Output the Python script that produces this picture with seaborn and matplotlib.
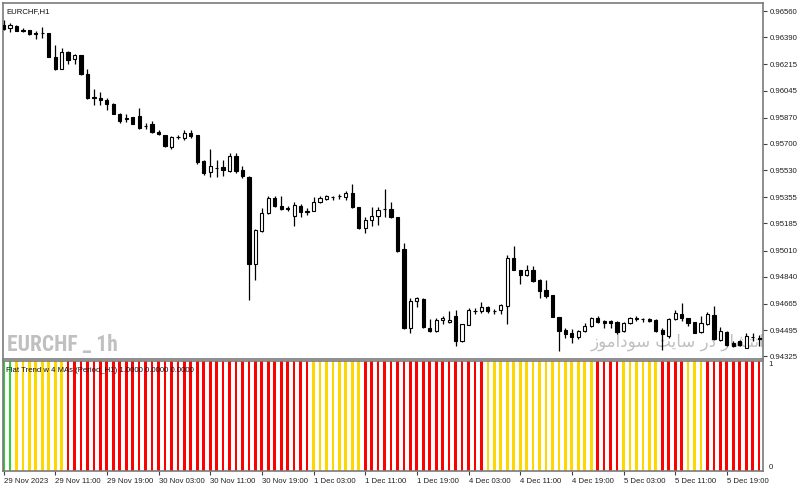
import matplotlib
matplotlib.use("Agg")
import matplotlib.pyplot as plt
from matplotlib import font_manager
import seaborn as sns
import numpy as np
import pandas as pd

# ---------------- data (EURCHF H1) ----------------
opens = [0.96469, 0.96447, 0.96464, 0.96438, 0.96436, 0.96417, 0.96415, 0.96415, 0.96263, 0.96188,
         0.96295, 0.96250, 0.96274, 0.96155, 0.96001, 0.95999, 0.95982, 0.95961, 0.95896, 0.95865,
         0.95874, 0.95878, 0.95816, 0.95826, 0.95776, 0.95757, 0.95683, 0.95744, 0.95737, 0.95772,
         0.95757, 0.95588, 0.95517, 0.95547, 0.95549, 0.95523, 0.95619, 0.95528, 0.95489, 0.94922,
         0.95134, 0.95251, 0.95348, 0.95300, 0.95284, 0.95231, 0.95300, 0.95265, 0.95268, 0.95322,
         0.95344, 0.95359, 0.95362, 0.95359, 0.95383, 0.95290, 0.95156, 0.95210, 0.95231, 0.95278,
         0.95279, 0.95229, 0.95020, 0.94511, 0.94684, 0.94699, 0.94511, 0.94487, 0.94561, 0.94548,
         0.94585, 0.94424, 0.94528, 0.94619, 0.94619, 0.94647, 0.94619, 0.94624, 0.94652, 0.94961,
         0.94885, 0.94853, 0.94883, 0.94820, 0.94753, 0.94721, 0.94580, 0.94494, 0.94478, 0.94452,
         0.94489, 0.94522, 0.94576, 0.94554, 0.94554, 0.94548, 0.94489, 0.94543, 0.94570, 0.94567,
         0.94569, 0.94561, 0.94496, 0.94457, 0.94565, 0.94598, 0.94572, 0.94548, 0.94483, 0.94533,
         0.94593, 0.94429, 0.94485, 0.94413, 0.94424, 0.94381, 0.94450, 0.94446]
highs = [0.96501, 0.96484, 0.96469, 0.96449, 0.96440, 0.96432, 0.96454, 0.96417, 0.96339, 0.96324,
         0.96300, 0.96280, 0.96276, 0.96188, 0.96058, 0.96036, 0.95997, 0.95962, 0.95898, 0.95896,
         0.95875, 0.95932, 0.95835, 0.95848, 0.95787, 0.95759, 0.95750, 0.95755, 0.95787, 0.95792,
         0.95759, 0.95593, 0.95664, 0.95593, 0.95593, 0.95643, 0.95640, 0.95560, 0.95492, 0.95151,
         0.95286, 0.95365, 0.95365, 0.95361, 0.95300, 0.95326, 0.95312, 0.95286, 0.95354, 0.95361,
         0.95370, 0.95365, 0.95377, 0.95398, 0.95441, 0.95294, 0.95225, 0.95290, 0.95290, 0.95409,
         0.95322, 0.95229, 0.95056, 0.94705, 0.94710, 0.94702, 0.94569, 0.94576, 0.94585, 0.94619,
         0.94624, 0.94537, 0.94641, 0.94641, 0.94680, 0.94652, 0.94634, 0.94663, 0.94981, 0.95039,
         0.94887, 0.94916, 0.94911, 0.94825, 0.94818, 0.94723, 0.94580, 0.94507, 0.94500, 0.94494,
         0.94543, 0.94580, 0.94587, 0.94559, 0.94559, 0.94554, 0.94550, 0.94580, 0.94589, 0.94576,
         0.94576, 0.94565, 0.94511, 0.94576, 0.94624, 0.94673, 0.94576, 0.94550, 0.94587, 0.94615,
         0.94652, 0.94515, 0.94489, 0.94424, 0.94431, 0.94478, 0.94478, 0.94463]
lows = [0.96436, 0.96425, 0.96430, 0.96423, 0.96407, 0.96376, 0.96384, 0.96261, 0.96177, 0.96183,
        0.96216, 0.96220, 0.96147, 0.95993, 0.95949, 0.95949, 0.95917, 0.95891, 0.95835, 0.95841,
        0.95829, 0.95798, 0.95796, 0.95770, 0.95755, 0.95683, 0.95668, 0.95735, 0.95727, 0.95740,
        0.95573, 0.95502, 0.95489, 0.95484, 0.95495, 0.95517, 0.95510, 0.95480, 0.94691, 0.94818,
        0.95127, 0.95247, 0.95294, 0.95275, 0.95268, 0.95171, 0.95225, 0.95242, 0.95264, 0.95318,
        0.95338, 0.95340, 0.95341, 0.95340, 0.95286, 0.95151, 0.95123, 0.95171, 0.95177, 0.95229,
        0.95223, 0.95002, 0.94504, 0.94474, 0.94647, 0.94511, 0.94485, 0.94483, 0.94533, 0.94543,
        0.94392, 0.94418, 0.94526, 0.94598, 0.94608, 0.94604, 0.94602, 0.94598, 0.94533, 0.94883,
        0.94796, 0.94846, 0.94809, 0.94702, 0.94705, 0.94580, 0.94360, 0.94446, 0.94413, 0.94435,
        0.94483, 0.94515, 0.94543, 0.94507, 0.94507, 0.94472, 0.94485, 0.94533, 0.94554, 0.94548,
        0.94548, 0.94485, 0.94364, 0.94446, 0.94561, 0.94554, 0.94522, 0.94476, 0.94478, 0.94528,
        0.94429, 0.94424, 0.94392, 0.94387, 0.94392, 0.94377, 0.94424, 0.94392]
closes = [0.96443, 0.96469, 0.96432, 0.96434, 0.96410, 0.96412, 0.96419, 0.96263, 0.96183, 0.96295,
          0.96246, 0.96274, 0.96151, 0.95999, 0.95998, 0.95984, 0.95956, 0.95896, 0.95848, 0.95862,
          0.95831, 0.95805, 0.95813, 0.95774, 0.95761, 0.95685, 0.95744, 0.95745, 0.95772, 0.95750,
          0.95586, 0.95513, 0.95554, 0.95544, 0.95528, 0.95619, 0.95523, 0.95495, 0.94922, 0.95145,
          0.95253, 0.95348, 0.95300, 0.95279, 0.95281, 0.95305, 0.95257, 0.95262, 0.95322, 0.95348,
          0.95364, 0.95357, 0.95364, 0.95383, 0.95290, 0.95156, 0.95210, 0.95234, 0.95275, 0.95279,
          0.95225, 0.95009, 0.94507, 0.94682, 0.94702, 0.94515, 0.94489, 0.94559, 0.94576, 0.94561,
          0.94424, 0.94533, 0.94624, 0.94621, 0.94645, 0.94619, 0.94617, 0.94656, 0.94961, 0.94885,
          0.94853, 0.94887, 0.94814, 0.94749, 0.94716, 0.94580, 0.94489, 0.94472, 0.94450, 0.94489,
          0.94522, 0.94576, 0.94550, 0.94543, 0.94541, 0.94485, 0.94543, 0.94572, 0.94572, 0.94564,
          0.94554, 0.94489, 0.94468, 0.94569, 0.94608, 0.94572, 0.94543, 0.94478, 0.94543, 0.94602,
          0.94435, 0.94489, 0.94398, 0.94392, 0.94398, 0.94457, 0.94452, 0.94435]

# Flat Trend indicator state per bar: G = up, Y = flat, R = down
trend_states = list("GGYYYYYYYY" "RRRRRRRRRR" "RRRRRRRRRR" "RRRRRRRRRR" "RRRRRRRRYY"
                    "YYYYYYRRRR" "RRRRRRRRRR" "RRRRRYYYYY" "YYYYYYYYYY" "YYRRRRYYYY"
                    "YYRRRRYYYR" "RRRRRRRR")
trend_values = [1.0] * len(trend_states)

price_ticks = [0.96560, 0.96390, 0.96215, 0.96045, 0.95870, 0.95700, 0.95530,
               0.95355, 0.95185, 0.95010, 0.94840, 0.94665, 0.94495, 0.94325]
price_tick_labels = ["0.96560", "0.96390", "0.96215", "0.96045", "0.95870", "0.95700", "0.95530",
                     "0.95355", "0.95185", "0.95010", "0.94840", "0.94665", "0.94495", "0.94325"]
time_labels = ["29 Nov 2023", "29 Nov 11:00", "29 Nov 19:00", "30 Nov 03:00", "30 Nov 11:00",
               "30 Nov 19:00", "1 Dec 03:00", "1 Dec 11:00", "1 Dec 19:00", "4 Dec 03:00",
               "4 Dec 11:00", "4 Dec 19:00", "5 Dec 03:00", "5 Dec 11:00", "5 Dec 19:00"]
bars_per_label = 8

# ---------------- style ----------------
sns.set_theme(style="white")
plt.rcParams["font.family"] = ["Liberation Sans", "DejaVu Sans"]

installed = {f.name for f in font_manager.fontManager.ttflist}
wm_family, wm_size, wm_text = ["DejaVu Sans"], 11.8, "EURCHF _ 1h"
for cand, size in (("Liberation Sans Narrow", 15.5), ("Roboto Condensed", 15.5),
                   ("Open Sans Condensed", 15)):
    if cand in installed:
        wm_family, wm_size = [cand, "DejaVu Sans"], size
        break

W, H = 800, 488
fig = plt.figure(figsize=(W / 100, H / 100), dpi=100)
fig.patch.set_facecolor("white")

def px_axes(x0, y0, x1, y1):
    return fig.add_axes([x0 / W, 1 - y1 / H, (x1 - x0) / W, (y1 - y0) / H])

ax = px_axes(3, 3, 763, 359)
ax2 = px_axes(3, 361, 763, 471)

n = len(opens)
idx = np.arange(n)
o = np.array(opens); h = np.array(highs); l = np.array(lows); c = np.array(closes)
xlim = (-0.08, 117.6)

# ---------------- candles ----------------
ax.vlines(idx, l, h, color="black", linewidth=0.9, zorder=2)
bull = c >= o
body_bottom = np.minimum(o, c)
body_height = np.maximum(np.abs(c - o), 0.000006)
ax.bar(idx[bull], body_height[bull], bottom=body_bottom[bull], width=0.5,
       color="white", edgecolor="black", linewidth=0.8, zorder=3)
ax.bar(idx[~bull], body_height[~bull], bottom=body_bottom[~bull], width=0.5,
       color="black", edgecolor="black", linewidth=0.8, zorder=3)

ax.set_xlim(*xlim)
ax.set_ylim(0.94308, 0.96612)
ax.yaxis.tick_right()
ax.set_yticks(price_ticks)
ax.set_yticklabels(price_tick_labels)
ax.set_xticks([])
ax.tick_params(axis="y", which="both", right=True, left=False, length=3, width=0.8,
               color="#404040", pad=1.5, labelsize=5.6, labelcolor="#202020")

ax.text(0.004, 0.985, "EURCHF,H1", transform=ax.transAxes, fontsize=5.6,
        color="#101010", ha="left", va="top", zorder=5)
ax.text(4 / 760, 0.008, wm_text, transform=ax.transAxes, fontsize=wm_size,
        family=wm_family, fontweight="bold",
        color="#c0c0c0", ha="left", va="bottom", zorder=1)
# Persian watermark ("انتشار در سایت سودآموز") in visual order with contextual forms
fa_text = ("\uFEAF\uFEEE\uFEE3\uFE81\uFEA9\uFEEE\uFEB3 \uFE96\uFBFE\uFE8E\uFEB3 "
           "\uFEAD\uFEA9 \uFEAD\uFE8E\uFEB8\uFE98\uFEE7\uFE8D")
ax.text(588 / 760, 0.022, fa_text, transform=ax.transAxes, fontsize=12,
        family=["DejaVu Sans"], color="#c0c0c0", ha="left", va="bottom", zorder=1)

# ---------------- indicator (seaborn) ----------------
ind = pd.DataFrame({"bar": idx, "value": trend_values, "state": trend_states})
sns.barplot(data=ind, x="bar", y="value", hue="state",
            palette={"G": "#32CD32", "Y": "#FFD700", "R": "#FF0000"},
            dodge=False, width=0.42, saturation=1, errorbar=None, legend=False,
            linewidth=0, edgecolor="none", ax=ax2)
ax2.set_xlim(*xlim)
ax2.set_ylim(0, 1)
ax2.set_xlabel("")
ax2.set_ylabel("")
ax2.yaxis.tick_right()
ax2.set_yticks([0, 1])
ax2.set_yticklabels(["0", "1"])
ylbls = ax2.get_yticklabels()
ylbls[0].set_va("bottom")
ylbls[1].set_va("top")
ax2.tick_params(axis="y", right=True, left=False, length=0, pad=4,
                labelsize=5.6, labelcolor="#202020")
tick_pos = list(range(0, bars_per_label * len(time_labels), bars_per_label))
ax2.set_xticks(tick_pos)
ax2.set_xticklabels(time_labels)
for t in ax2.get_xticklabels():
    t.set_ha("left")
ax2.tick_params(axis="x", bottom=True, length=3, width=0.8, color="#404040",
                pad=2, labelsize=5.6, labelcolor="#202020")
ax2.text(0.004, 0.95, "Flat Trend w 4 MAs (Period_H1) 1.0000 0.0000 0.0000",
         transform=ax2.transAxes, fontsize=5.6, color="#101010", ha="left", va="top", zorder=5)

for a in (ax, ax2):
    a.set_facecolor("white")
    a.grid(False)
    for s in a.spines.values():
        s.set_visible(True)
        s.set_color("#7a7a7a")
        s.set_linewidth(1.2)

fig.savefig("out.png", dpi=100, facecolor="white")
